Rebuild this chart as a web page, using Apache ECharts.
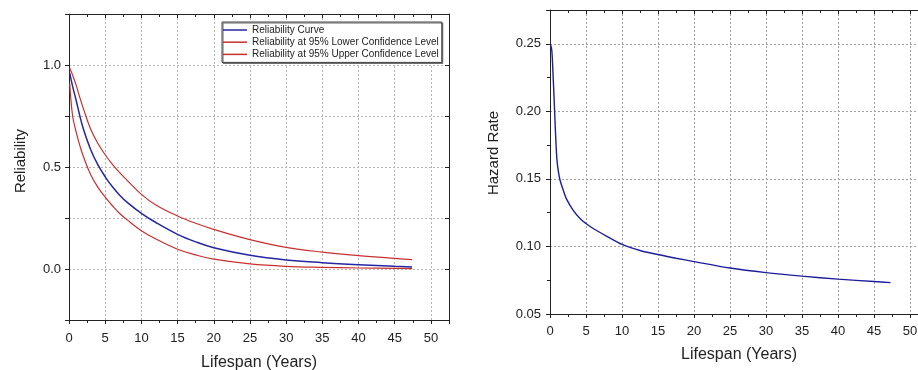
<!DOCTYPE html>
<html>
<head>
<meta charset="utf-8">
<script src="https://cdn.jsdelivr.net/npm/echarts@6/dist/echarts.min.js"></script>
<style>
html, body { margin: 0; padding: 0; background: #fff; }
#chart { width: 918px; height: 370px; }
</style>
</head>
<body>
<div id="chart"></div>
<script>
// reliability panel (left)
const relYears = [0.1, 0.5, 1, 1.5, 2, 3, 4, 5, 6, 7, 8, 10, 12, 15, 17.5, 20, 25, 30, 35, 40, 45, 47.4]
const relCurve = [0.96, 0.895, 0.825, 0.75, 0.685, 0.585, 0.51, 0.452, 0.403, 0.362, 0.328, 0.273, 0.228, 0.17, 0.133, 0.104, 0.067, 0.044, 0.031, 0.021, 0.013, 0.010]
const relLower = [0.91, 0.75, 0.67, 0.605, 0.55, 0.462, 0.4, 0.352, 0.31, 0.272, 0.242, 0.188, 0.147, 0.097, 0.069, 0.048, 0.025, 0.013, 0.008, 0.005, 0.003, 0.002]
const relUpper = [0.985, 0.95, 0.9, 0.84, 0.785, 0.685, 0.615, 0.56, 0.513, 0.472, 0.436, 0.366, 0.314, 0.26, 0.224, 0.194, 0.144, 0.106, 0.083, 0.066, 0.052, 0.046]

// hazard panel (right)
const hazYears = [0.05, 0.1, 0.25, 0.4, 0.55, 0.75, 0.95, 1.15, 1.4, 1.85, 2.3, 3.25, 4.2, 5, 6, 7.9, 10, 12.5, 15, 17.5, 20, 25, 30, 35, 40, 45, 47.3]
const hazRate = [0.25, 0.25, 0.245, 0.23, 0.212, 0.186, 0.165, 0.156, 0.149, 0.1415, 0.135, 0.1265, 0.1205, 0.117, 0.1133, 0.1075, 0.1015, 0.097, 0.094, 0.0913, 0.0888, 0.084, 0.0806, 0.078, 0.0758, 0.074, 0.0732]

const xTickStep = 5
const relTickStep = 0.25
const hazTickStep = 0.05

const names = [
    'Reliability Curve',
    'Reliability at 95% Lower Confidence Level',
    'Reliability at 95% Upper Confidence Level'
]

const font = 'Liberation Sans, Arial, sans-serif'
const ink = '#222'
const blue = '#2626a0'
const red = '#c83030'

function pairs(xs, ys) {
    return xs.map((x, i) => [x, ys[i]])
}

function onStep(v, step) {
    return Math.abs(v / step - Math.round(v / step)) < 1e-6
}

// main axis with labels / mirrored axis with inner ticks only
function valueAxis(opts, mirror) {
    return Object.assign({
        type: 'value',
        axisLine: { show: true, onZero: false, lineStyle: { color: ink, width: 1 } },
        axisTick: { show: true, inside: mirror, length: 4, lineStyle: { color: ink } },
        minorTick: { show: true, splitNumber: 2, length: 3, lineStyle: { color: ink } },
        axisLabel: { show: !mirror },
        splitLine: { show: false }
    }, opts)
}

function labels(margin, fmt) {
    return { fontSize: 13, color: ink, fontFamily: font, margin: margin, formatter: fmt }
}

const gridLine = (c) => ({ show: true, lineStyle: { type: [2, 2], color: c, width: 1 } })

const chart = echarts.init(document.getElementById('chart'))
chart.setOption({
    backgroundColor: '#fff',
    animation: false,
    grid: [
        { left: 69, top: 14, width: 380, height: 306, outerBoundsMode: 'none', containLabel: false },
        { left: 550, top: 10, width: 378, height: 304, outerBoundsMode: 'none', containLabel: false }
    ],
    legend: {
        left: 222,
        top: 22,
        orient: 'vertical',
        data: [
            { name: names[0], icon: 'rect', itemStyle: { color: blue } },
            { name: names[1], icon: 'rect', itemStyle: { color: red } },
            { name: names[2], icon: 'rect', itemStyle: { color: red } }
        ],
        itemWidth: 24,
        itemHeight: 1.5,
        itemGap: 2.2,
        padding: [3, 3, 3, 1],
        backgroundColor: '#fff',
        borderColor: '#444',
        borderWidth: 1,
        shadowColor: '#666',
        shadowOffsetX: 1,
        shadowOffsetY: 1,
        textStyle: { fontSize: 10, color: ink, fontFamily: font }
    },
    xAxis: [
        valueAxis({
            gridIndex: 0, position: 'bottom', min: 0, max: 52.5, interval: xTickStep,
            axisLabel: labels(12, (v) => onStep(v, xTickStep) ? String(v) : ''),
            splitLine: gridLine('#b4b4b4'),
            name: 'Lifespan (Years)', nameLocation: 'middle', nameGap: 35,
            nameTextStyle: { fontSize: 16, color: ink, fontFamily: font }
        }, false),
        valueAxis({ gridIndex: 0, position: 'top', min: 0, max: 52.5, interval: xTickStep }, true),
        valueAxis({
            gridIndex: 1, position: 'bottom', min: 0, max: 52.5, interval: xTickStep,
            axisLabel: labels(11, (v) => onStep(v, xTickStep) ? String(v) : ''),
            splitLine: gridLine('#a0a0a0'),
            name: 'Lifespan (Years)', nameLocation: 'middle', nameGap: 33,
            nameTextStyle: { fontSize: 16, color: ink, fontFamily: font }
        }, false),
        valueAxis({ gridIndex: 1, position: 'top', min: 0, max: 52.5, interval: xTickStep }, true)
    ],
    yAxis: [
        valueAxis({
            gridIndex: 0, position: 'left', min: -0.25, max: 1.25, interval: relTickStep,
            minorTick: { show: false },
            axisLabel: labels(8, (v) => onStep(v, 0.5) ? v.toFixed(1) : ''),
            splitLine: gridLine('#b4b4b4'),
            name: 'Reliability', nameLocation: 'middle', nameGap: 41,
            nameTextStyle: { fontSize: 15, color: ink, fontFamily: font, padding: [0, 0, 0, 12] }
        }, false),
        valueAxis({ gridIndex: 0, position: 'right', min: -0.25, max: 1.25, interval: relTickStep,
            minorTick: { show: false } }, true),
        valueAxis({
            gridIndex: 1, position: 'left', min: 0.05, max: 0.275, interval: hazTickStep,
            axisLabel: labels(9, (v) => onStep(v, hazTickStep) ? v.toFixed(2) : ''),
            splitLine: gridLine('#a0a0a0'),
            name: 'Hazard Rate', nameLocation: 'middle', nameGap: 49,
            nameTextStyle: { fontSize: 15, color: ink, fontFamily: font, padding: [0, 0, 0, 18] }
        }, false)
    ],
    series: [
        {
            name: names[0], type: 'line', xAxisIndex: 0, yAxisIndex: 0,
            data: pairs(relYears, relCurve), symbol: 'none', smooth: 0.4,
            lineStyle: { color: blue, width: 1.5 }, itemStyle: { color: blue }, z: 3
        },
        {
            name: names[1], type: 'line', xAxisIndex: 0, yAxisIndex: 0,
            data: pairs(relYears, relLower), symbol: 'none', smooth: 0.4,
            lineStyle: { color: red, width: 1.2 }, itemStyle: { color: red }
        },
        {
            name: names[2], type: 'line', xAxisIndex: 0, yAxisIndex: 0,
            data: pairs(relYears, relUpper), symbol: 'none', smooth: 0.4,
            lineStyle: { color: red, width: 1.2 }, itemStyle: { color: red }
        },
        {
            name: 'Hazard Rate', type: 'line', xAxisIndex: 2, yAxisIndex: 2,
            data: pairs(hazYears, hazRate), symbol: 'none', smooth: 0.3,
            lineStyle: { color: '#1e1e9a', width: 1.4 }
        }
    ]
})
</script>
</body>
</html>
